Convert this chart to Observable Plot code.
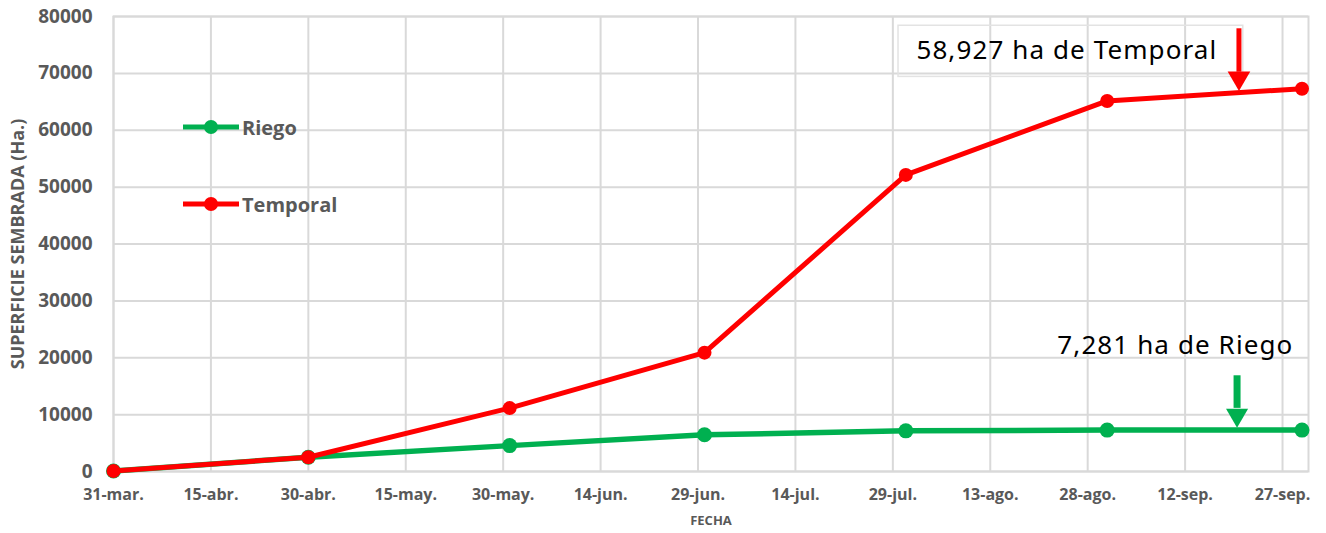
<!DOCTYPE html>
<html><head><meta charset="utf-8">
<script src="https://cdn.jsdelivr.net/npm/d3@7"></script>
<script src="https://cdn.jsdelivr.net/npm/@observablehq/plot@0.6"></script>
<style>
body{margin:0;background:#fff;}
#wrap{position:relative;width:1326px;height:533px;}
.leg{position:absolute;display:flex;align-items:center;font-family:"Open Sans";font-weight:700;font-size:20px;color:#595959;height:30px;}
.leg svg{display:block;}
.leg span{margin-left:3px;}
</style></head><body><div id="wrap"></div>
<script>
// Data
const dates = ["2023-03-31","2023-04-30","2023-05-31","2023-06-30","2023-07-31","2023-08-31","2023-09-30"];
const riego = [100, 2500, 4550, 6450, 7150, 7281, 7281];
const temporal = [100, 2500, 11150, 20900, 52150, 65150, 67300];
const seriesNames = ["Riego", "Temporal"];
const seriesColors = ["#00B050", "#FF0000"];
const tickDateStr = ["2023-03-31","2023-04-15","2023-04-30","2023-05-15","2023-05-30","2023-06-14","2023-06-29","2023-07-14","2023-07-29","2023-08-13","2023-08-28","2023-09-12","2023-09-27"];
const tickLabels = ["31-mar.","15-abr.","30-abr.","15-may.","30-may.","14-jun.","29-jun.","14-jul.","29-jul.","13-ago.","28-ago.","12-sep.","27-sep."];
const yTicks = [0,10000,20000,30000,40000,50000,60000,70000,80000];
const notes = [
  {text:"58,927 ha de Temporal", x:"2023-08-24T19:00Z", y:74000},
  {text:"7,281 ha de Riego", x:"2023-09-10T12:00Z", y:22100}
];
const arrows = [
  {x:"2023-09-20T07:00Z", top:77840, base:70200, tip:66900},
  {x:"2023-09-20T00:00Z", top:16830, base:11100, tip:7680}
];
const box = {x1:"2023-07-29T21:00Z", x2:"2023-09-20T23:00Z", y1:78370, y2:69380};

const rows = dates.map((d,i)=>({date:new Date(d), riego:riego[i], temporal:temporal[i]}));
const tickDates = tickDateStr.map(d=>new Date(d));
const fmtX = d => tickLabels[tickDates.findIndex(t => +t === +d)];
const arr = arrows.map(a=>({...a, x:new Date(a.x)}));
const nts = notes.map(n=>({...n, x:new Date(n.x)}));
const bx = [{...box, x1:new Date(box.x1), x2:new Date(box.x2)}];

const chart = Plot.plot({
  width:1326, height:533,
  marginLeft:113, marginRight:18, marginTop:16, marginBottom:62,
  x:{type:"utc", domain:[new Date("2023-03-31"), new Date("2023-10-01")]},
  y:{domain:[0,80000]},
  style:{fontFamily:"Open Sans", background:"white", overflow:"visible"},
  marks:[
    Plot.gridY(yTicks,{stroke:"#d9d9d9", strokeOpacity:1, strokeWidth:2}),
    Plot.gridX(tickDates,{stroke:"#d9d9d9", strokeOpacity:1, strokeWidth:2}),
    Plot.frame({stroke:"#d9d9d9", strokeWidth:2}),
    Plot.axisY(yTicks,{tickSize:0, tickPadding:21, tickFormat:d3.format("d"), fontSize:19, fontWeight:"bold", fill:"#595959", label:null}),
    Plot.axisX(tickDates,{tickSize:0, tickPadding:17, tickFormat:fmtX, fontSize:16, fontWeight:"bold", fill:"#595959", label:null}),
    Plot.text(["SUPERFICIE SEMBRADA (Ha.)"],{frameAnchor:"left", textAnchor:"middle", rotate:-90, dx:-95, fontSize:18, fontWeight:"bold", fill:"#595959"}),
    Plot.text(["FECHA"],{frameAnchor:"bottom", dy:53, fontSize:13, fontWeight:"bold", fill:"#595959"}),
    Plot.rect(bx,{x1:"x1", x2:"x2", y1:"y1", y2:"y2", fill:"none", stroke:"#e3e3e3", strokeWidth:1.5}),
    Plot.line(rows,{x:"date", y:"riego", stroke:seriesColors[0], strokeWidth:5.5}),
    Plot.dot(rows,{x:"date", y:"riego", fill:seriesColors[0], r:7.5}),
    Plot.line(rows,{x:"date", y:"temporal", stroke:seriesColors[1], strokeWidth:5}),
    Plot.dot(rows,{x:"date", y:"temporal", fill:seriesColors[1], r:7}),
    Plot.ruleX([arr[0]],{x:"x", y1:"top", y2:"base", stroke:seriesColors[1], strokeWidth:5}),
    Plot.dot([arr[0]],{x:"x", y:"tip", symbol:"triangle", r:8.4, fill:seriesColors[1], rotate:180, dy:-13}),
    Plot.ruleX([arr[1]],{x:"x", y1:"top", y2:"base", stroke:seriesColors[0], strokeWidth:7}),
    Plot.dot([arr[1]],{x:"x", y:"tip", symbol:"triangle", r:8.2, fill:seriesColors[0], rotate:180, dy:-12.7}),
    Plot.text(nts,{x:"x", y:"y", text:"text", fontFamily:"Noto Sans", fontSize:26, fill:"#000"})
  ]
});
d3.select(chart).selectAll("text").filter(function(){ return notes.some(n => n.text === this.textContent); }).attr("letter-spacing", "1.1px");
const wrap = document.getElementById("wrap");
wrap.appendChild(chart);

// Legend overlay
const legTops = [112, 189];
seriesNames.forEach((name,i)=>{
  const d = document.createElement("div");
  d.className = "leg";
  d.style.left = "183px";
  d.style.top = legTops[i] + "px";
  d.innerHTML = `<svg width="56" height="30"><line x1="0" x2="56" y1="15" y2="15" stroke="${seriesColors[i]}" stroke-width="5"/><circle cx="28" cy="15" r="7" fill="${seriesColors[i]}"/></svg><span>${name}</span>`;
  wrap.appendChild(d);
});
</script>
</body></html>
